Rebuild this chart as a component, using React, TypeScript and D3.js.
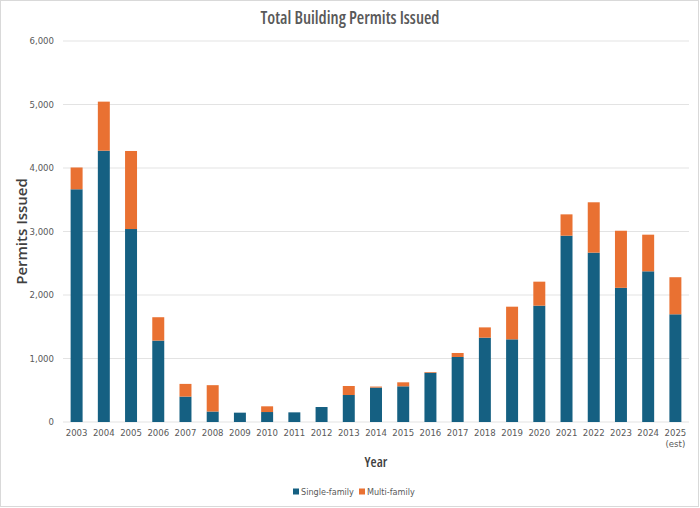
import React, { useEffect, useRef } from "react";
import * as d3 from "d3";

// 연도별 카테고리와 값
const years = [
  "2003", "2004", "2005", "2006", "2007", "2008", "2009", "2010", "2011", "2012",
  "2013", "2014", "2015", "2016", "2017", "2018", "2019", "2020", "2021", "2022",
  "2023", "2024", "2025",
];
const yearLabels = [
  "2003", "2004", "2005", "2006", "2007", "2008", "2009", "2010", "2011", "2012",
  "2013", "2014", "2015", "2016", "2017", "2018", "2019", "2020", "2021", "2022",
  "2023", "2024", "2025\n(est)",
];
const singleFamily = [
  3665, 4273, 3039, 1282, 400, 165, 147, 157, 152, 236,
  425, 542, 562, 776, 1024, 1328, 1302, 1832, 2934, 2667,
  2113, 2373, 1696,
];
const multiFamily = [
  343, 772, 1229, 368, 200, 415, 0, 90, 0, 0,
  142, 16, 63, 11, 63, 162, 514, 378, 336, 793,
  899, 577, 584,
];
const yTicks = [0, 1000, 2000, 3000, 4000, 5000, 6000];

const seriesNames = ["Single-family", "Multi-family"];
const seriesColors = ["#156082", "#E97132"];

const W = 700;
const H = 508;
const FONT = "'DejaVu Sans Condensed', 'Roboto', sans-serif";
const HEAD = "'Open Sans', 'DejaVu Sans Condensed', sans-serif";

export default function App() {
  const svgRef = useRef<SVGSVGElement>(null);

  useEffect(() => {
    if (!svgRef.current) return;
    const svg = d3.select(svgRef.current);
    svg.selectAll("*").remove();

    const margin = { top: 41, right: 11, bottom: 86, left: 63 };
    const cw = W - margin.left - margin.right;
    const ch = H - margin.top - margin.bottom;

    // 바깥 테두리
    svg
      .append("rect")
      .attr("x", 0.5)
      .attr("y", 0.5)
      .attr("width", W - 2)
      .attr("height", H - 2)
      .attr("fill", "#fff")
      .attr("stroke", "#d9d9d9");

    const g = svg
      .append("g")
      .attr("transform", `translate(${margin.left},${margin.top})`);

    const x = d3.scaleBand<string>().domain(years).range([0, cw]).paddingInner(0.56).paddingOuter(0.28);
    const y = d3.scaleLinear().domain([0, 6000]).range([ch, 0]);

    // 그리드
    g.selectAll(".grid")
      .data(yTicks)
      .enter()
      .append("line")
      .attr("x1", 0)
      .attr("x2", cw)
      .attr("y1", (d) => y(d))
      .attr("y2", (d) => y(d))
      .attr("stroke", "#e3e3e3")
      .attr("stroke-width", 1);

    // 누적 데이터
    const rows = years.map((yr, i) => ({
      year: yr,
      single: singleFamily[i],
      multi: multiFamily[i],
    }));
    const stacked = d3.stack<any>().keys(["single", "multi"])(rows);

    stacked.forEach((layer, li) => {
      g.append("g")
        .selectAll("rect")
        .data(layer)
        .enter()
        .append("rect")
        .attr("x", (d: any) => x(d.data.year)!)
        .attr("width", x.bandwidth())
        .attr("y", (d) => y(d[1]))
        .attr("height", (d) => Math.max(0, y(d[0]) - y(d[1])))
        .attr("fill", seriesColors[li]);
    });

    // Y축 레이블
    g.selectAll(".ytick")
      .data(yTicks)
      .enter()
      .append("text")
      .attr("x", -9)
      .attr("y", (d) => y(d))
      .attr("dy", "0.35em")
      .attr("text-anchor", "end")
      .style("font-family", FONT)
      .style("font-size", "9.5px")
      .style("fill", "#595959")
      .text((d) => d3.format(",")(d));

    // X축 레이블
    const xl = g
      .selectAll(".xtick")
      .data(years)
      .enter()
      .append("text")
      .attr("x", (d) => x(d)! + x.bandwidth() / 2)
      .attr("y", ch + 14)
      .attr("text-anchor", "middle")
      .style("font-family", FONT)
      .style("font-size", "9.5px")
      .style("fill", "#595959");
    xl.each(function (_d, i) {
      const lines = yearLabels[i].split("\n");
      lines.forEach((ln, k) => {
        d3.select(this)
          .append("tspan")
          .attr("x", x(years[i])! + x.bandwidth() / 2)
          .attr("dy", k === 0 ? 0 : 11)
          .text(ln);
      });
    });

    // 축 제목
    g.append("text")
      .attr("x", cw / 2)
      .attr("y", ch + 45)
      .attr("text-anchor", "middle")
      .style("font-family", HEAD)
      .style("font-size", "14px")
      .style("font-weight", "600")
      .style("font-stretch", "87.5%")
      .style("fill", "#404040")
      .text("Year");

    svg
      .append("text")
      .attr("transform", `translate(27,${margin.top + ch / 2}) rotate(-90)`)
      .attr("text-anchor", "middle")
      .style("font-family", HEAD)
      .style("font-size", "15px")
      .style("font-weight", "600")
      .style("font-stretch", "95%")
      .style("fill", "#404040")
      .text("Permits Issued");

    // 제목
    svg
      .append("text")
      .attr("x", W / 2)
      .attr("y", 24)
      .attr("text-anchor", "middle")
      .style("font-family", HEAD)
      .style("font-size", "17px")
      .style("font-weight", "600")
      .style("font-stretch", "80%")
      .style("fill", "#595959")
      .text("Total Building Permits Issued");

    // 범례
    const legend = svg.append("g").attr("transform", `translate(293,492)`);
    const offsets = [0, 66];
    seriesNames.forEach((name, i) => {
      const lg = legend.append("g").attr("transform", `translate(${offsets[i]},0)`);
      lg.append("rect")
        .attr("x", 0)
        .attr("y", -3.5)
        .attr("width", 6)
        .attr("height", 6)
        .attr("fill", seriesColors[i]);
      lg.append("text")
        .attr("x", 8)
        .attr("y", 0)
        .attr("dy", "0.35em")
        .style("font-family", FONT)
        .style("font-size", "9px")
        .style("fill", "#595959")
        .text(name);
    });
  }, []);

  return (
    <svg
      ref={svgRef}
      width={W}
      height={H}
      style={{ position: "absolute", left: 0, top: 0 }}
    />
  );
}
